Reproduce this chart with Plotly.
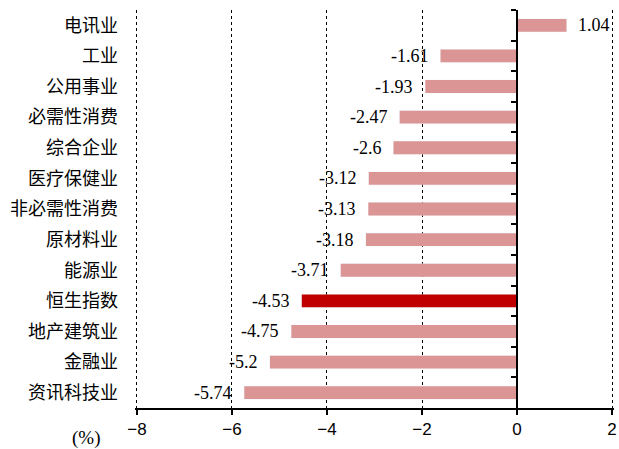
import plotly.graph_objects as go

# Sector returns (%), listed top to bottom
sectors = ["电讯业", "工业", "公用事业", "必需性消费", "综合企业", "医疗保健业",
           "非必需性消费", "原材料业", "能源业", "恒生指数", "地产建筑业", "金融业", "资讯科技业"]
returns = [1.04, -1.61, -1.93, -2.47, -2.6, -3.12, -3.13, -3.18, -3.71, -4.53, -4.75, -5.2, -5.74]
highlight = "恒生指数"

x_ticks = [-8, -6, -4, -2, 0, 2]
# slightly wider than the tick span so the edge gridlines are still drawn
x_range = [-8.04, 2.04]

pink = "#DA9594"
dark_red = "#C00000"
colors = [dark_red if s == highlight else pink for s in sectors]

serif = "Liberation Serif"

fig = go.Figure()

fig.add_trace(go.Bar(
    x=returns, y=sectors, orientation="h",
    marker=dict(color=colors, line=dict(width=0)),
    hoverinfo="x+y", yaxis="y2",
))
# invisible copy carrying the category labels on the left axis
fig.add_trace(go.Bar(
    x=returns, y=sectors, orientation="h",
    marker=dict(color="rgba(0,0,0,0)"), hoverinfo="skip",
    yaxis="y", showlegend=False,
))

# value labels at the end of each bar
for s, v in zip(sectors, returns):
    fig.add_annotation(
        x=v, y=s, yref="y2", text=str(v), showarrow=False,
        xanchor="left" if v >= 0 else "right",
        xshift=10 if v >= 0 else -10,
        font=dict(family=serif, size=18, color="black"),
    )

fig.add_annotation(
    x=-0.103, y=-0.075, xref="paper", yref="paper", text="(%)", showarrow=False,
    xanchor="center", yanchor="middle",
    font=dict(family=serif, size=19, color="black"),
)

zero_pos = (0 - x_range[0]) / (x_range[1] - x_range[0])

fig.update_layout(
    width=619, height=449,
    margin=dict(l=135, r=5, t=10, b=41, autoexpand=False),
    paper_bgcolor="white", plot_bgcolor="white",
    showlegend=False, barmode="overlay", bargap=0.58,
    xaxis=dict(
        range=x_range, tickvals=x_ticks, automargin=False,
        showgrid=True, gridcolor="black", gridwidth=1, griddash="dot",
        zeroline=False,
        showline=True, linecolor="black", linewidth=1.5,
        ticks="outside", ticklen=5, tickcolor="black", tickwidth=1.5,
        tickfont=dict(family="Liberation Sans", size=17, color="black"),
    ),
    yaxis=dict(
        categoryorder="array", categoryarray=sectors, autorange="reversed",
        automargin=False,
        showgrid=False, zeroline=False, showline=False, ticks="",
        ticklabelstandoff=16,
        tickfont=dict(family="Noto Sans CJK SC", size=18, color="black"),
    ),
    yaxis2=dict(
        categoryorder="array", categoryarray=sectors, autorange="reversed",
        overlaying="y", anchor="free", position=zero_pos, side="left",
        automargin=False,
        showgrid=False, zeroline=False,
        showline=True, linecolor="black", linewidth=1.5,
        ticks="outside", tickson="boundaries", ticklen=5, tickcolor="black", tickwidth=1.5,
        showticklabels=False,
    ),
)

fig.write_html("out.html")
